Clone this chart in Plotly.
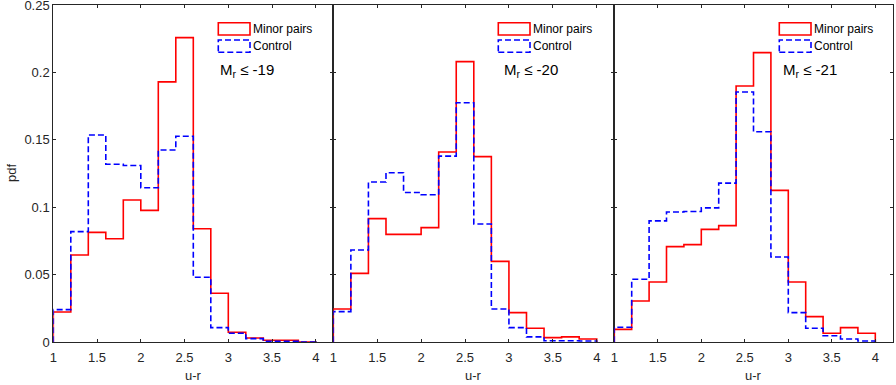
import plotly.graph_objects as go

# bin edges of the u-r histograms (stairs)
bin_edges = [1.0, 1.2, 1.4, 1.6, 1.8, 2.0, 2.2, 2.4, 2.6, 2.8, 3.0, 3.2, 3.4, 3.6, 3.8, 4.0]

# Mr <= -19
minor_19 = [0.0225, 0.0647, 0.0815, 0.0768, 0.1055, 0.0978, 0.193, 0.2258,
            0.0842, 0.0363, 0.0074, 0.0032, 0.0015, 0.0015, 0.0002]
control_19 = [0.0242, 0.082, 0.1537, 0.132, 0.131, 0.1146, 0.1425, 0.1527,
              0.0482, 0.0109, 0.0067, 0.0027, 0.0007, 0.0007, 0.0001]

# Mr <= -20
minor_20 = [0.0247, 0.0511, 0.0917, 0.080, 0.080, 0.085, 0.141, 0.208,
            0.1376, 0.060, 0.022, 0.0104, 0.0035, 0.004, 0.0025]
control_20 = [0.0227, 0.0684, 0.1188, 0.1257, 0.111, 0.1094, 0.138, 0.1776,
              0.0877, 0.0247, 0.0109, 0.004, 0.0012, 0.0012, 0.001]

# Mr <= -21
minor_21 = [0.0096, 0.0306, 0.0447, 0.0709, 0.0724, 0.0837, 0.0865, 0.190,
            0.2147, 0.1126, 0.0447, 0.019, 0.0067, 0.0109, 0.0067]
control_21 = [0.0111, 0.0467, 0.090, 0.0966, 0.097, 0.0996, 0.118, 0.1855,
              0.156, 0.0632, 0.022, 0.0104, 0.0049, 0.0025, 0.001]

panel_labels = ["M<sub>r</sub> ≤ -19", "M<sub>r</sub> ≤ -20", "M<sub>r</sub> ≤ -21"]
series_names = ["Minor pairs", "Control"]

W, H = 896, 385
FONT = "Liberation Sans, Arial, Helvetica, sans-serif"
AX = "#262626"
DASH = "6px,3px"


def px(x):
    return x / W


def py(y):
    return 1 - y / H


def stairs(vals):
    xs = [bin_edges[0]] + bin_edges[:-1] + [bin_edges[-1], bin_edges[-1]]
    ys = [0] + list(vals) + [vals[-1], 0]
    return xs, ys


panels = [(minor_19, control_19), (minor_20, control_20), (minor_21, control_21)]
lefts = [53.3, 333.3, 614.3]
rights = [333.3, 614.3, 892.7]
mr_offsets = [165.7, 170.0, 167.4]

fig = go.Figure()
shapes = []
annotations = []

for i, (minor, control) in enumerate(panels):
    sfx = "" if i == 0 else str(i + 1)
    xr, yr = stairs(minor)
    xb, yb = stairs(control)
    fig.add_trace(go.Scatter(x=xr, y=yr, mode="lines", line_shape="hv",
                             line=dict(color="#ff0000", width=1.6),
                             name=series_names[0], showlegend=False,
                             xaxis="x" + sfx, yaxis="y" + sfx))
    fig.add_trace(go.Scatter(x=xb, y=yb, mode="lines", line_shape="hv",
                             line=dict(color="#0000ff", width=1.6, dash=DASH),
                             name=series_names[1], showlegend=False,
                             xaxis="x" + sfx, yaxis="y" + sfx))

    common = dict(showline=True, linecolor=AX, linewidth=1, mirror="ticks",
                  ticks="inside", ticklen=3, tickcolor=AX, tickwidth=1,
                  showgrid=False, zeroline=False, ticklabeloverflow="allow",
                  automargin=False,
                  tickfont=dict(family=FONT, size=13, color=AX))
    fig.layout["xaxis" + sfx] = dict(common, domain=[px(lefts[i]), px(rights[i])],
                                     range=[1, 4.2], tickvals=[1, 1.5, 2, 2.5, 3, 3.5, 4],
                                     ticktext=["1", "1.5", "2", "2.5", "3", "3.5", "4"],
                                     ticklabelstandoff=3,
                                     anchor="y" + sfx)
    fig.layout["yaxis" + sfx] = dict(common, domain=[py(342.3), py(5)],
                                     range=[0, 0.25],
                                     tickvals=[0, 0.05, 0.1, 0.15, 0.2, 0.25],
                                     ticktext=["0", "0.05", "0.1", "0.15", "0.2", "0.25"],
                                     showticklabels=(i == 0),
                                     anchor="x" + sfx)

    # legend boxes (MATLAB style)
    L = lefts[i]
    shapes.append(dict(type="rect", xref="paper", yref="paper",
                       x0=px(L + 165), x1=px(L + 196.7), y0=py(35), y1=py(22.7),
                       line=dict(color="#ff0000", width=1.6)))
    shapes.append(dict(type="rect", xref="paper", yref="paper",
                       x0=px(L + 165), x1=px(L + 196.7), y0=py(52.3), y1=py(40),
                       line=dict(color="#0000ff", width=1.6, dash=DASH)))
    annotations.append(dict(x=px(L + 198), y=py(29.5), xref="paper", yref="paper",
                            text=series_names[0], showarrow=False,
                            xanchor="left", yanchor="middle",
                            font=dict(family=FONT, size=12, color="#000000")))
    annotations.append(dict(x=px(L + 198), y=py(46), xref="paper", yref="paper",
                            text=series_names[1], showarrow=False,
                            xanchor="left", yanchor="middle",
                            font=dict(family=FONT, size=12, color="#000000")))
    annotations.append(dict(x=px(L + mr_offsets[i] - 1), y=py(71), xref="paper", yref="paper",
                            text=panel_labels[i], showarrow=False,
                            xanchor="left", yanchor="middle",
                            font=dict(family=FONT, size=15, color="#000000")))
    annotations.append(dict(x=px((lefts[i] + rights[i]) / 2), y=py(375),
                            xref="paper", yref="paper", text="u-r", showarrow=False,
                            xanchor="center", yanchor="middle",
                            font=dict(family=FONT, size=13, color=AX)))

annotations.append(dict(x=px(11), y=py(173), xref="paper", yref="paper",
                        text="pdf", showarrow=False, textangle=-90,
                        xanchor="center", yanchor="middle",
                        font=dict(family=FONT, size=13, color=AX)))

fig.update_layout(width=W, height=H, margin=dict(l=0, r=0, t=0, b=0),
                  paper_bgcolor="white", plot_bgcolor="white",
                  showlegend=False, shapes=shapes, annotations=annotations)

# the page body has a default 8px margin; drop it so the figure fills the window
fig.write_html("out.html", config={"displayModeBar": False},
               post_script="document.body.style.margin='0';")
